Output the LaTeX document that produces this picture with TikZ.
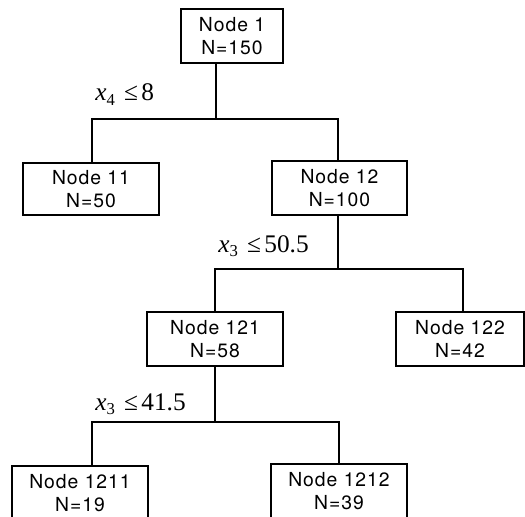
\documentclass[tikz,border=0pt]{standalone}
\usepackage{fontspec}
\setmainfont{Liberation Serif}
\newfontfamily\boxfont[LetterSpace=5]{TeX Gyre Heros}
\newfontfamily\labfont{Liberation Serif}
\newcommand{\splitlab}[3]{{\labfont\fontsize{19}{20}\selectfont\textit{#1}\raisebox{-0.35ex}{\fontsize{12.5}{12}\selectfont #2}\hspace{7pt}≤\hspace{2.5pt}#3}}
\begin{document}
\begin{tikzpicture}[x=0.75pt,y=-0.75pt,
  treebox/.style={draw,line width=1.2pt,inner sep=0pt,align=center,
    font=\boxfont\fontsize{14.5}{16.8}\selectfont,minimum height=40.5pt},
  link/.style={line width=1.2pt},
  splitlabel/.style={anchor=base west,inner sep=0pt}]
\useasboundingbox (0,0) rectangle (525,517);
\clip (0,0) rectangle (525,517);
% boxes
\node[treebox,minimum width=76.5pt] (n1) at (232,36) {Node 1\\N=150};
\node[treebox,minimum width=102pt,minimum height=39pt] (n11) at (91,189) {Node 11\\N=50};
\node[treebox,minimum width=101.25pt] (n12) at (339.5,188) {Node 12\\N=100};
\node[treebox,minimum width=102pt] (n121) at (215,339) {Node 121\\N=58};
\node[treebox,minimum width=96pt] (n122) at (460,339) {Node 122\\N=42};
\node[treebox,minimum width=102pt] (n1211) at (80,493) {Node 1211\\N=19};
\node[treebox,minimum width=102pt] (n1212) at (339,491) {Node 1212\\N=39};
% junctions
\coordinate (j1) at (216,119);
\coordinate (l1) at (92,119);
\coordinate (r1) at (338,119);
\coordinate (j2) at (338,269);
\coordinate (l2) at (215,269);
\coordinate (r2) at (463,269);
\coordinate (j3) at (215,422);
\coordinate (l3) at (92,422);
\coordinate (r3) at (339,422);
% connectors
\draw[link] (n1.south -| j1) -- (j1);
\draw[link] (l1 |- n11.north) -- (l1) -- (r1) -- (r1 |- n12.north);
\draw[link] (n12.south -| j2) -- (j2);
\draw[link] (l2 |- n121.north) -- (l2) -- (r2) -- (r2 |- n122.north);
\draw[link] (n121.south -| j3) -- (j3);
\draw[link] (l3 |- n1211.north) -- (l3) -- (r3) -- (r3 |- n1212.north);
% labels
\node[splitlabel] (s1) at (95,101) {\splitlab{x}{4}{8}};
\node[splitlabel] (s2) at (218,252) {\splitlab{x}{3}{50.5}};
\node[splitlabel] (s3) at (95,410) {\splitlab{x}{3}{41.5}};
\end{tikzpicture}
\end{document}
